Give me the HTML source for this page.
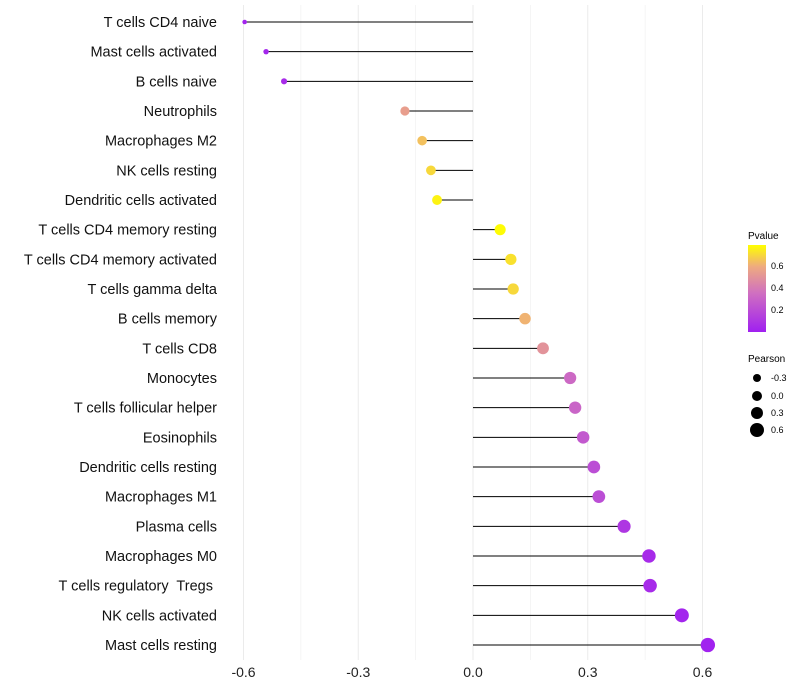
<!DOCTYPE html>
<html><head><meta charset="utf-8"><style>
body{margin:0;background:#fff;font-family:"Liberation Sans",sans-serif}
svg{display:block}
text{white-space:pre}
</style></head><body>
<svg id="chart" width="800" height="700">
<defs><linearGradient id="pg" x1="0" y1="1" x2="0" y2="0">
<stop offset="0" stop-color="#a020f0"/><stop offset="0.45" stop-color="#d070c0"/><stop offset="0.75" stop-color="#eeaa80"/><stop offset="1" stop-color="#ffff00"/></linearGradient></defs>
<g id="grid"></g><g id="marks"></g><g id="ylabels"></g><g id="xlabels"></g>
<g>
<text x="748" y="239" font-size="10">Pvalue</text>
<rect x="748" y="245" width="18" height="87" fill="url(#pg)"/>
<text x="771" y="269" font-size="9">0.6</text>
<text x="771" y="291" font-size="9">0.4</text>
<text x="771" y="313" font-size="9">0.2</text>
<text x="748" y="362" font-size="10">Pearson</text>
<circle cx="757" cy="378" r="4"/>
<text x="771" y="381" font-size="9">-0.3</text>
<circle cx="757" cy="396" r="5"/>
<text x="771" y="399" font-size="9">0.0</text>
<circle cx="757" cy="413" r="6"/>
<text x="771" y="416" font-size="9">0.3</text>
<circle cx="757" cy="430" r="7"/>
<text x="771" y="433" font-size="9">0.6</text>
</g>
</svg>
<script>
const categories=["T cells CD4 naive","Mast cells activated","B cells naive","Neutrophils","Macrophages M2","NK cells resting","Dendritic cells activated","T cells CD4 memory resting","T cells CD4 memory activated","T cells gamma delta","B cells memory","T cells CD8","Monocytes","T cells follicular helper","Eosinophils","Dendritic cells resting","Macrophages M1","Plasma cells","Macrophages M0","T cells regulatory  Tregs ","NK cells activated","Mast cells resting"];
const pearson=[-0.597,-0.541,-0.494,-0.178,-0.133,-0.110,-0.094,0.071,0.099,0.105,0.136,0.183,0.254,0.267,0.288,0.316,0.329,0.395,0.460,0.463,0.546,0.614];
const pvalues=[0.02,0.03,0.05,0.55,0.65,0.7,0.76,0.78,0.72,0.7,0.62,0.5,0.32,0.3,0.25,0.2,0.2,0.1,0.05,0.05,0.02,0.01];
const xTicks=[-0.6,-0.3,0.0,0.3,0.6];
const xTickLabels=["-0.6","-0.3","0.0","0.3","0.6"];
const NS="http://www.w3.org/2000/svg";
const x=v=>473+v*382.5;
const y=i=>22+i*(623/21);
const stops=[[0,[160,32,240]],[0.35,[208,112,192]],[0.6,[238,170,128]],[0.786,[255,255,0]]];
function col(p){for(let k=1;k<stops.length;k++){if(p<=stops[k][0]||k==stops.length-1){const a=stops[k-1],b=stops[k];let t=Math.max(0,Math.min(1,(p-a[0])/(b[0]-a[0])));return "rgb("+a[1].map((c,j)=>Math.round(c+(b[1][j]-c)*t)).join(",")+")";}}}
const rad=v=>Math.sqrt(Math.max(1.5,28+38*v));
function mk(t,a,parent){const e=document.createElementNS(NS,t);for(const k in a)e.setAttribute(k,a[k]);document.getElementById(parent).appendChild(e);return e;}
for(let v=-0.6;v<=0.61;v+=0.15){const e=mk("line",{x1:x(v),x2:x(v),y1:5,y2:660,stroke:"#ebebeb","stroke-width":Math.abs(Math.round(v/0.3)*0.3-v)<0.01?1:0.5},"grid");

}
xTicks.forEach((v,i)=>{const t=mk("text",{x:x(v),y:677,"font-size":14,"text-anchor":"middle",fill:"#222"},"xlabels");t.textContent=xTickLabels[i];

});
categories.forEach((c,i)=>{
const t=mk("text",{x:217,y:y(i)+5,"font-size":14.5,"text-anchor":"end",fill:"#111"},"ylabels");t.textContent=c;


const l=mk("line",{x1:x(0),x2:x(pearson[i]),y1:y(i),y2:y(i),stroke:"#000","stroke-width":1},"marks");


const d=mk("circle",{cx:x(pearson[i]),cy:y(i),r:rad(pearson[i]),fill:col(pvalues[i])},"marks");


});
</script>
</body></html>
